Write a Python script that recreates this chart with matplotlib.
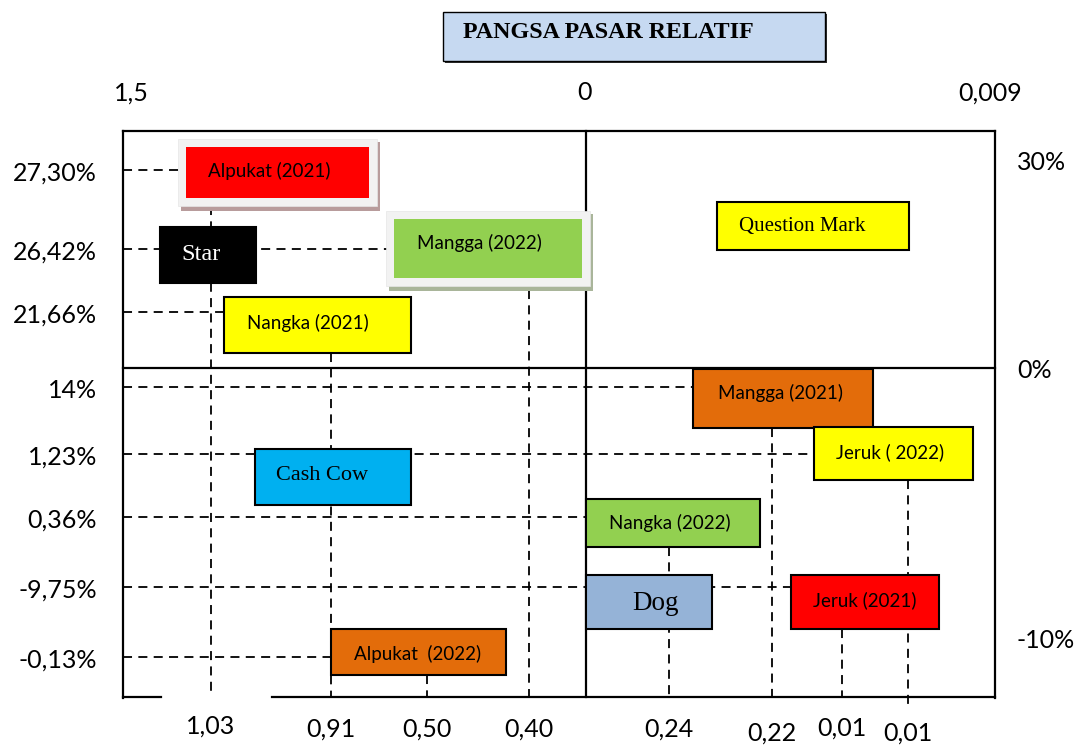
import matplotlib.pyplot as plt
from matplotlib.patches import Rectangle

SANS = 'Lato'
SERIF = 'Liberation Serif'

# data
products = ['Alpukat (2021)', 'Mangga (2022)', 'Nangka (2021)', 'Mangga (2021)',
            'Jeruk ( 2022)', 'Nangka (2022)', 'Jeruk (2021)', 'Alpukat  (2022)']
product_colors = ['#FF0000', '#92D050', '#FFFF00', '#E36C0A',
                  '#FFFF00', '#92D050', '#FF0000', '#E36C0A']
growth_labels = ['27,30%', '26,42%', '21,66%', '14%', '1,23%', '0,36%', '-9,75%', '-0,13%']
share_labels = ['1,03', '0,40', '0,91', '0,22', '0,01', '0,24', '0,01', '0,50']

quadrants = ['Star', 'Question Mark', 'Cash Cow', 'Dog']
quadrant_colors = ['#000000', '#FFFF00', '#00B0F0', '#95B3D7']
quadrant_text_colors = ['white', 'black', 'black', 'black']

top_scale = ['1,5', '0', '0,009']
right_scale = ['30%', '0%', '-10%']
title = 'PANGSA PASAR RELATIF'

# layout in pixels (x0, y0, x1, y1, text x, text y)
product_boxes = [(186, 147, 369, 198, 269, 171), (394, 219, 582, 278, 479, 243),
                 (224, 297, 411, 353, 308, 323), (693, 369, 873, 428, 780, 393),
                 (814, 427, 973, 480, 890, 452), (586, 499, 760, 547, 670, 523),
                 (791, 575, 939, 629, 865, 600), (331, 629, 506, 675, 418, 654)]
quadrant_boxes = [(160, 227, 256, 283, 201, 254), (717, 202, 909, 250, 802, 227),
                  (255, 449, 411, 505, 322, 476), (586, 575, 712, 629, 656, 603)]
quadrant_sizes = [17.5, 15, 16, 19.5]
# growth guide: y, x end ; share guide: x, y start, y end, label y
growth_y = [170, 249, 312, 387, 454, 517, 587, 657]
growth_x_end = [180, 394, 225, 693, 814, 586, 791, 331]
share_x = [211, 529, 331, 772, 842, 669, 908, 427]
share_y0 = [206, 290, 353, 428, 629, 547, 480, 675]
share_y1 = [697, 697, 697, 697, 697, 697, 705, 697]
share_label_y = [726, 729, 729, 733, 728, 729, 733, 729]
top_x = [131, 585, 990]
right_y = [163, 370, 640]

W, H = 1087, 747
fig = plt.figure(figsize=(W / 100, H / 100), dpi=100)
ax = fig.add_axes([0, 0, 1, 1])
ax.set_xlim(0, W)
ax.set_ylim(H, 0)
ax.axis('off')

dash = dict(color='black', lw=1.3, linestyle=(0, (5, 3.5)), zorder=1)
LABEL_SIZE = 18

# guides
for y, xe, lab in zip(growth_y, growth_x_end, growth_labels):
    ax.plot([123, xe], [y, y], **dash)
    ax.text(97, y + 3, lab, ha='right', va='center', fontsize=LABEL_SIZE, family=SANS)

for x, y0, y1, ly, lab in zip(share_x, share_y0, share_y1, share_label_y, share_labels):
    ax.plot([x, x], [y0, y1], **dash)
    ax.text(x, ly, lab, ha='center', va='center', fontsize=LABEL_SIZE, family=SANS)

# frame
frame = dict(color='black', lw=1.6, zorder=2)
ax.plot([123, 995], [131, 131], **frame)
ax.plot([123, 123], [131, 698], **frame)
ax.plot([995, 995], [131, 698], **frame)
ax.plot([123, 161], [697, 697], **frame)
ax.plot([272, 995], [697, 697], **frame)
ax.plot([123, 995], [368, 368], **frame)
ax.plot([586, 586], [131, 697], **frame)

# shadowed boxes
for i, shadow in [(0, '#B89C9C'), (1, '#A9B59A')]:
    x0, y0, x1, y1 = product_boxes[i][:4]
    ax.add_patch(Rectangle((x0 - 5, y0 - 5), x1 - x0 + 16, y1 - y0 + 18,
                           facecolor=shadow, edgecolor='none', zorder=3))
    ax.add_patch(Rectangle((x0 - 8, y0 - 8), x1 - x0 + 16, y1 - y0 + 16,
                           facecolor='#F2F2F2', edgecolor='#E6E6E6', lw=0.5, zorder=3))

for i, (name, col) in enumerate(zip(products, product_colors)):
    x0, y0, x1, y1, tx, ty = product_boxes[i]
    shadowed = i in (0, 1)
    ax.add_patch(Rectangle((x0, y0), x1 - x0, y1 - y0, facecolor=col,
                           edgecolor='none' if shadowed else 'black', lw=1.5, zorder=4))
    ax.text(tx, ty, name, ha='center', va='center', fontsize=13.5, family=SANS, zorder=5)

for i, (name, col, tc) in enumerate(zip(quadrants, quadrant_colors, quadrant_text_colors)):
    x0, y0, x1, y1, tx, ty = quadrant_boxes[i]
    ax.add_patch(Rectangle((x0, y0), x1 - x0, y1 - y0, facecolor=col,
                           edgecolor='black', lw=1.5, zorder=4))
    ax.text(tx, ty, name, ha='center', va='center', fontsize=quadrant_sizes[i],
            family=SERIF, color=tc, zorder=5)

# scales
for x, lab in zip(top_x, top_scale):
    ax.text(x, 93, lab, ha='center', va='center', fontsize=LABEL_SIZE, family=SANS)
for y, lab in zip(right_y, right_scale):
    ax.text(1017, y, lab, ha='left', va='center', fontsize=LABEL_SIZE, family=SANS)

# title
ax.add_patch(Rectangle((445, 14), 382, 49, facecolor='#303030', edgecolor='none', zorder=3))
ax.add_patch(Rectangle((443, 12), 382, 49, facecolor='#C6D9F1', edgecolor='black', lw=1, zorder=4))
ax.text(463, 33, title, ha='left', va='center', fontsize=17.3, fontweight='bold',
        family=SERIF, zorder=5)

fig.savefig('out.png', dpi=100)
